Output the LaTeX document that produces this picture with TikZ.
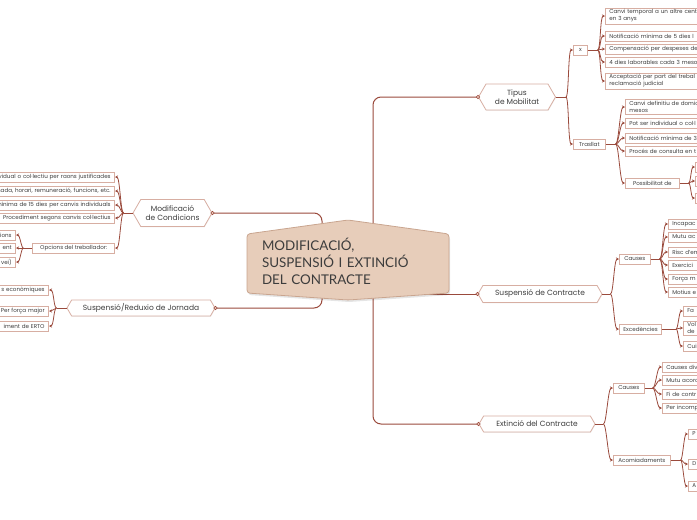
\documentclass[tikz,border=0pt]{standalone}
\usepackage{fontspec}
\setmainfont{Poppins}
\newfontfamily\hubfont{Lato}
\usepackage{tikz}
\usetikzlibrary{arrows.meta,positioning,shapes.symbols,shadows,calc}

\definecolor{linkred}{HTML}{9A4A3C}
\definecolor{boxline}{HTML}{D7AEA2}
\definecolor{hubfill}{HTML}{E7CDBA}
\definecolor{hubline}{HTML}{C9A58F}
\definecolor{inktext}{HTML}{3D3D3D}
\definecolor{dotfill}{HTML}{EBC8BC}

\begin{document}
\begin{tikzpicture}[
    x=1pt, y=-1pt,
    font=\fontsize{5.6}{7}\selectfont, text=inktext,
    topic/.style={signal, signal to=west and east, signal pointer angle=120, draw=boxline, fill=white, line width=0.8pt, font=\fontsize{7.5}{9}\selectfont, align=center, inner sep=1pt, drop shadow={shadow xshift=0.5pt, shadow yshift=-0.8pt, opacity=0.12}},
    subbox/.style={rectangle, draw=boxline, fill=white, line width=0.7pt, minimum height=10pt, inner xsep=4pt, inner ysep=1.5pt, drop shadow={shadow xshift=0.4pt, shadow yshift=-0.6pt, opacity=0.1}},
    leafR/.style={subbox, anchor=west, text width=120pt, align=left},
    leafL/.style={subbox, anchor=east, text width=150pt, align=right},
    trunk/.style={draw=linkred, line width=1pt, rounded corners=8pt},
    stem/.style={draw=linkred, line width=0.8pt},
    link/.style={draw=linkred, line width=0.8pt, -{Stealth[length=3pt, width=3pt]}},
    dot/.style={circle, draw=linkred, fill=dotfill, line width=0.5pt, inner sep=0pt, minimum size=3.5pt}
]
    \useasboundingbox (0,0) rectangle (697,520);

    % Main topics
    \node[topic, minimum width=77pt, minimum height=26pt] (tipus) at (517,97) {Tipus\\de Mobilitat};
    \node[topic, minimum width=124pt, minimum height=17pt] (susp) at (540,294) {Suspensió de Contracte};
    \node[topic, minimum width=116pt, minimum height=16pt] (extin) at (537,424) {Extinció del Contracte};
    \node[topic, minimum width=79pt, minimum height=27pt] (modif) at (172.5,213) {Modificació\\de Condicions};
    \node[topic, minimum width=148pt, minimum height=16pt] (reduc) at (141,308) {Suspensió/Reduxio de Jornada};

    % Trunk lines from the centre
    \coordinate (hubR) at (373,260);
    \coordinate (hubL) at (322,260);
    \draw[trunk] (hubR) |- (tipus.west);
    \draw[trunk] (hubR) |- (extin.west);
    \draw[trunk] (hubR |- susp.west) -- (susp.west);
    \draw[trunk] (hubL) |- (modif.east);
    \draw[trunk] (hubL) |- (reduc.east);
    \node[dot] (dT) at (tipus.west) {};
    \node[dot] (dS) at (susp.west) {};
    \node[dot] (dE) at (extin.west) {};
    \node[dot] (dM) at (modif.east) {};
    \node[dot] (dR) at (reduc.east) {};

    % Centre
    \fill[black, opacity=0.1, rounded corners=3pt] (248,236) -- (349,222) -- (450,236) -- (450,295) -- (349,302) -- (248,295) -- cycle;
    \draw[hubline, fill=hubfill, line width=0.8pt, rounded corners=3pt] (247,234) -- (348,220) -- (449,234) -- (449,293) -- (348,300) -- (247,293) -- cycle;
    \node[text width=172pt, align=left, font=\hubfont\fontsize{13.4}{17}\selectfont, text=inktext] (hub) at (348,261) {MODIFICACIÓ,\\SUSPENSIÓ I EXTINCIÓ\\DEL CONTRACTE};

    % Second level
    \node[subbox, anchor=west, minimum width=14pt] (xbox) at (573,50) {x};
    \node[subbox, anchor=west, minimum width=32pt] (tras) at (573,144) {Trasllat};
    \node[subbox, anchor=west, minimum width=54pt] (possib) at (625,183) {Possibilitat de};
    \node[subbox, anchor=west, minimum width=31pt] (causA) at (619,259) {Causes};
    \node[subbox, anchor=west, minimum width=41pt] (exced) at (619,329) {Excedències};
    \node[subbox, anchor=west, minimum width=31pt] (causB) at (613,388) {Causes};
    \node[subbox, anchor=west, minimum width=57pt] (acom) at (613,460) {Acomiadaments};
    \node[subbox, anchor=east, minimum width=82pt] (opc) at (115,248) {Opcions del treballador:};

    % Leaves: x
    \node[leafR] (xa) at (605,16) {Canvi temporal a un altre cent\\en 3 anys};
    \node[leafR] (xb) at (605,36) {Notificació mínima de 5 dies l};
    \node[leafR] (xc) at (605,49) {Compensació per despeses de};
    \node[leafR] (xd) at (605,62) {4 dies laborables cada 3 mesos};
    \node[leafR] (xe) at (605,81) {Acceptació per part del trebal\\reclamació judicial};

    % Leaves: Trasllat
    \node[leafR] (ta) at (625,107) {Canvi definitiu de domic\\mesos};
    \node[leafR] (tb) at (625,123) {Pot ser individual o col·l};
    \node[leafR] (tc) at (625,138) {Notificació mínima de 3};
    \node[leafR] (td) at (625,151) {Procés de consulta en t};
    \node[leafR] (pa) at (695,167) {};
    \node[leafR] (pb) at (695,181) {};
    \node[leafR] (pc) at (695,198) {};

    % Leaves: Suspensió
    \node[leafR] (ca) at (668,224) {Incapac};
    \node[leafR] (cb) at (668,237) {Mutu ac};
    \node[leafR] (cc) at (668,252) {Risc d'em};
    \node[leafR] (cd) at (668,265) {Exercici};
    \node[leafR] (ce) at (668,279) {Força m};
    \node[leafR] (cf) at (668,292) {Motius e};
    \node[leafR] (ea) at (683,311) {Fa};
    \node[leafR] (eb) at (683,328) {Vol\\de};
    \node[leafR] (ec) at (683,346) {Cui};

    % Leaves: Extinció
    \node[leafR] (ka) at (662,367) {Causes div};
    \node[leafR] (kb) at (662,380) {Mutu acord};
    \node[leafR] (kc) at (662,394) {Fi de contr};
    \node[leafR] (kd) at (662,408) {Per incomp};
    \node[leafR] (aa) at (688,434) {P};
    \node[leafR] (ab) at (688,464) {D};
    \node[leafR] (ac) at (688,486) {A};

    % Leaves: left side
    \node[leafL] (ma) at (115,177) {individual o col·lectiu per raons justificades};
    \node[leafL] (mb) at (115,191) {jornada, horari, remuneració, funcions, etc.};
    \node[leafL] (mc) at (115,205) {mínima de 15 dies per canvis individuals};
    \node[leafL] (md) at (115,218) {Procediment segons canvis col·lectius};
    \node[leafL] (oa) at (16,235) {ions};
    \node[leafL] (ob) at (16,248) {ent};
    \node[leafL] (oc) at (16,262) {vei)};
    \node[leafL] (ra) at (49,290) {s econòmiques};
    \node[leafL] (rb) at (49,311) {Per força major};
    \node[leafL] (rc) at (49,326) {iment de ERTO};

    % Junctions
    \draw[stem] (tipus.east) -- ++(10,0) coordinate (jT);
    \draw[stem] (xbox.east) -- ++(10,0) coordinate (jX);
    \draw[stem] (tras.east) -- ++(10,0) coordinate (jTr);
    \draw[stem] (possib.east) -- ++(9,0) coordinate (jP);
    \draw[stem] (susp.east) -- ++(8,0) coordinate (jS);
    \draw[stem] (causA.east) -- ++(9,0) coordinate (jCA);
    \draw[stem] (exced.east) -- ++(14,0) coordinate (jEx);
    \draw[stem] (extin.east) -- ++(8,0) coordinate (jE);
    \draw[stem] (causB.east) -- ++(8,0) coordinate (jCB);
    \draw[stem] (acom.east) -- ++(10,0) coordinate (jA);
    \draw[stem] (modif.west) -- ++(-9,0) coordinate (jM);
    \draw[stem] (opc.west) -- ++(-9,0) coordinate (jO);
    \draw[stem] (reduc.west) -- ++(-10,0) coordinate (jR);

    % Arrows
    \draw[link] (jT) .. controls +(3,0) and +(-5,0) .. (xbox.west);
    \draw[link] (jT) .. controls +(3,0) and +(-5,0) .. (tras.west);
    \draw[link] (jX) .. controls +(3,0) and +(-5,0) .. (xa.west);
    \draw[link] (jX) .. controls +(3,0) and +(-5,0) .. (xb.west);
    \draw[link] (jX) .. controls +(3,0) and +(-5,0) .. (xc.west);
    \draw[link] (jX) .. controls +(3,0) and +(-5,0) .. (xd.west);
    \draw[link] (jX) .. controls +(3,0) and +(-5,0) .. (xe.west);
    \draw[link] (jTr) .. controls +(3,0) and +(-5,0) .. (ta.west);
    \draw[link] (jTr) .. controls +(3,0) and +(-5,0) .. (tb.west);
    \draw[link] (jTr) .. controls +(3,0) and +(-5,0) .. (tc.west);
    \draw[link] (jTr) .. controls +(3,0) and +(-5,0) .. (td.west);
    \draw[link] (jTr) .. controls +(3,0) and +(-5,0) .. (possib.west);
    \draw[link] (jP) .. controls +(2,0) and +(-4,0) .. (pa.west);
    \draw[link] (jP) .. controls +(2,0) and +(-4,0) .. (pb.west);
    \draw[link] (jP) .. controls +(2,0) and +(-4,0) .. (pc.west);
    \draw[link] (jS) .. controls +(3,0) and +(-5,0) .. (causA.west);
    \draw[link] (jS) .. controls +(3,0) and +(-5,0) .. (exced.west);
    \draw[link] (jCA) .. controls +(3,0) and +(-5,0) .. (ca.west);
    \draw[link] (jCA) .. controls +(3,0) and +(-5,0) .. (cb.west);
    \draw[link] (jCA) .. controls +(3,0) and +(-5,0) .. (cc.west);
    \draw[link] (jCA) .. controls +(3,0) and +(-5,0) .. (cd.west);
    \draw[link] (jCA) .. controls +(3,0) and +(-5,0) .. (ce.west);
    \draw[link] (jCA) .. controls +(3,0) and +(-5,0) .. (cf.west);
    \draw[link] (jEx) .. controls +(2,0) and +(-4,0) .. (ea.west);
    \draw[link] (jEx) .. controls +(2,0) and +(-4,0) .. (eb.west);
    \draw[link] (jEx) .. controls +(2,0) and +(-4,0) .. (ec.west);
    \draw[link] (jE) .. controls +(3,0) and +(-5,0) .. (causB.west);
    \draw[link] (jE) .. controls +(3,0) and +(-5,0) .. (acom.west);
    \draw[link] (jCB) .. controls +(3,0) and +(-5,0) .. (ka.west);
    \draw[link] (jCB) .. controls +(3,0) and +(-5,0) .. (kb.west);
    \draw[link] (jCB) .. controls +(3,0) and +(-5,0) .. (kc.west);
    \draw[link] (jCB) .. controls +(3,0) and +(-5,0) .. (kd.west);
    \draw[link] (jA) .. controls +(2,0) and +(-4,0) .. (aa.west);
    \draw[link] (jA) .. controls +(2,0) and +(-4,0) .. (ab.west);
    \draw[link] (jA) .. controls +(2,0) and +(-4,0) .. (ac.west);
    \draw[link] (jM) .. controls +(-3,0) and +(5,0) .. (ma.east);
    \draw[link] (jM) .. controls +(-3,0) and +(5,0) .. (mb.east);
    \draw[link] (jM) .. controls +(-3,0) and +(5,0) .. (mc.east);
    \draw[link] (jM) .. controls +(-3,0) and +(5,0) .. (md.east);
    \draw[link] (jM) .. controls +(-3,0) and +(5,0) .. (opc.east);
    \draw[link] (jO) .. controls +(-2,0) and +(4,0) .. (oa.east);
    \draw[link] (jO) .. controls +(-2,0) and +(4,0) .. (ob.east);
    \draw[link] (jO) .. controls +(-2,0) and +(4,0) .. (oc.east);
    \draw[link] (jR) .. controls +(-3,0) and +(5,0) .. (ra.east);
    \draw[link] (jR) .. controls +(-3,0) and +(5,0) .. (rb.east);
    \draw[link] (jR) .. controls +(-3,0) and +(5,0) .. (rc.east);
\end{tikzpicture}
\end{document}
